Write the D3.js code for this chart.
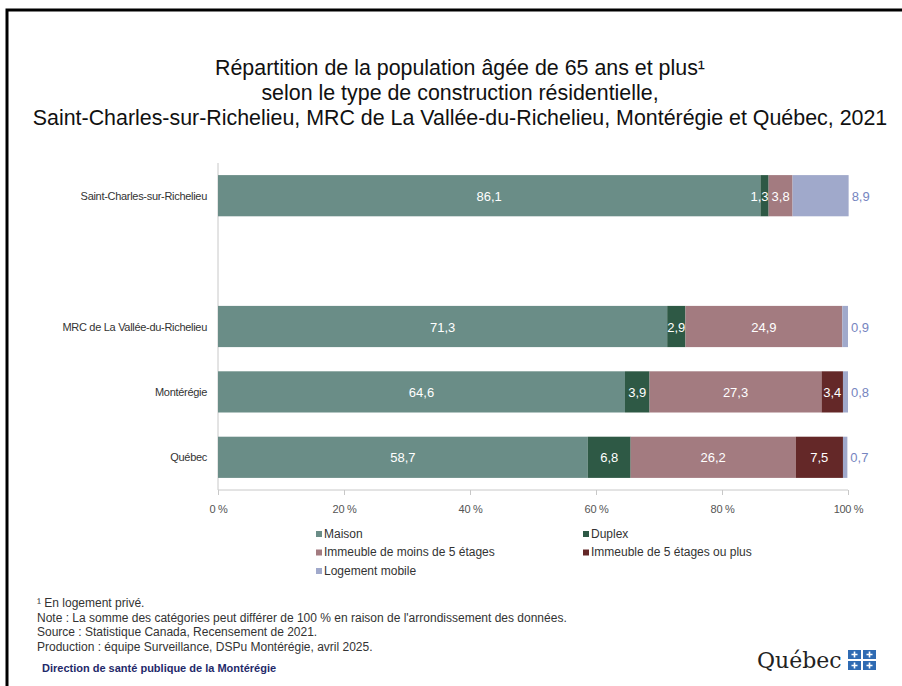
<!DOCTYPE html>
<html lang="fr">
<head>
<meta charset="utf-8">
<title>Répartition de la population âgée de 65 ans et plus</title>
<style>
  body { margin: 0; background: #fff; }
  svg { display: block; }
  .title { font-family: "Liberation Sans Narrow", "Liberation Sans", Arial, sans-serif; font-size: 21.4px; fill: #111; }
  .cat { font-family: "Liberation Sans", Arial, sans-serif; font-size: 11px; fill: #333; letter-spacing: -0.3px; }
  .tick text { font-family: "Liberation Sans", Arial, sans-serif; font-size: 11px; fill: #555; letter-spacing: -0.3px; }
  .val { font-family: "Liberation Sans", Arial, sans-serif; font-size: 13px; fill: #fff; }
  .legend text, .note { font-family: "Liberation Sans Narrow", "Liberation Sans", Arial, sans-serif; font-size: 12px; fill: #333; }
</style>
</head>
<body>
<svg id="chart" width="902" height="686"></svg>
<script src="https://d3js.org/d3.v7.min.js"></script>
<script>
  // données (%), une valeur par territoire
  var territoires = ["Saint-Charles-sur-Richelieu", "", "MRC de La Vallée-du-Richelieu", "Montérégie", "Québec"];
  var series = ["Maison", "Duplex", "Immeuble de moins de 5 étages", "Immeuble de 5 étages ou plus", "Logement mobile"];
  var maison     = [86.1, 0, 71.3, 64.6, 58.7];
  var duplex     = [1.3, 0, 2.9, 3.9, 6.8];
  var moins5     = [3.8, 0, 24.9, 27.3, 26.2];
  var plus5      = [0, 0, 0, 3.4, 7.5];
  var mobile     = [8.9, 0, 0.9, 0.8, 0.7];
  var ticks      = [0, 20, 40, 60, 80, 100];
  var couleurs   = ["#6a8d87", "#2e5945", "#a37b80", "#642828", "#a0a9cb"];

  var svg = d3.select("#chart");

  // cadre
  svg.append("path").attr("d", "M7,686 V10 H902").attr("fill", "none").attr("stroke", "#000").attr("stroke-width", 3);

  // titre
  var titre = ["Répartition de la population âgée de 65 ans et plus¹",
               "selon le type de construction résidentielle,",
               "Saint-Charles-sur-Richelieu, MRC de La Vallée-du-Richelieu, Montérégie et Québec, 2021"];
  svg.selectAll(".title").data(titre).enter().append("text")
     .attr("class", "title").attr("x", 460).attr("y", (d, i) => 75 + i * 25)
     .attr("text-anchor", "middle").text(d => d);

  // tableau pour la pile
  var table = territoires.map(function(t, i) {
    return { nom: t, Maison: maison[i], Duplex: duplex[i],
             "Immeuble de moins de 5 étages": moins5[i],
             "Immeuble de 5 étages ou plus": plus5[i],
             "Logement mobile": mobile[i] };
  });
  var stack = d3.stack().keys(series)(table);

  var x = d3.scaleLinear().domain([0, 100]).range([218, 848]);
  var y = d3.scaleBand().domain(d3.range(territoires.length)).range([163, 490])
            .paddingInner(0.37).paddingOuter(0.185);
  var color = d3.scaleOrdinal().domain(series).range(couleurs);

  // axe x
  var gx = svg.append("g").attr("class", "tick-axis").attr("transform", "translate(0,490)")
    .call(d3.axisBottom(x).tickValues(ticks).tickSize(5).tickFormat(d => d + " %"));
  gx.selectAll("line").attr("stroke", "#c8c8c8");
  gx.select(".domain").attr("stroke", "#c8c8c8").attr("d", "M218,0H848");
  gx.selectAll("text").attr("dy", "1.35em");
  gx.attr("font-family", null).attr("font-size", null);

  // axe y
  svg.append("line").attr("x1", 218).attr("x2", 218).attr("y1", 163).attr("y2", 490)
     .attr("stroke", "#c8c8c8");
  svg.selectAll(".cat").data(territoires).enter().append("text")
     .attr("class", "cat").attr("x", 207).attr("text-anchor", "end")
     .attr("y", (d, i) => y(i) + y.bandwidth() / 2 + 4).text(d => d);

  // barres
  var groupes = svg.selectAll(".serie").data(stack).enter().append("g")
     .attr("class", "serie").attr("fill", d => color(d.key));
  groupes.selectAll("rect").data(d => d.filter(p => p[1] > p[0])).enter().append("rect")
     .attr("x", d => x(d[0])).attr("width", d => x(d[1]) - x(d[0]))
     .attr("y", d => y(territoires.indexOf(d.data.nom))).attr("height", y.bandwidth());

  // étiquettes
  var fmt = v => String(v.toFixed(1)).replace(".", ",");
  stack.forEach(function(s, k) {
    s.forEach(function(p, i) {
      var v = p[1] - p[0];
      if (!(v > 0)) return;
      var yy = y(i) + y.bandwidth() / 2 + 5;
      if (k === 4) {
        svg.append("text").attr("class", "val").attr("x", x(p[1]) + 3).attr("y", yy)
           .style("fill", "#7685c0").text(fmt(v));
      } else {
        var t = svg.append("text").attr("class", "val").attr("y", yy).text(fmt(v));
        var w = t.node().getComputedTextLength();
        if (w > x(p[1]) - x(p[0]) + 2) {
          // segment trop étroit : on aligne le texte sur le bord droit
          t.attr("x", x(p[1])).attr("text-anchor", "end");
        } else {
          t.attr("x", x((p[0] + p[1]) / 2)).attr("text-anchor", "middle");
        }
      }
    });
  });

  // légende
  var legX = [316, 583];
  var leg = svg.selectAll(".legend").data(series).enter().append("g")
     .attr("class", "legend")
     .attr("transform", (d, i) => "translate(" + legX[i % 2] + "," + (537 + Math.floor(i / 2) * 18.5) + ")");
  leg.append("rect").attr("x", 0).attr("y", -6).attr("width", 6).attr("height", 6).attr("fill", d => color(d));
  leg.append("text").attr("x", 8).attr("y", 0).attr("dy", "0.05em").text(d => d);

  // notes
  var notes = ["¹ En logement privé.",
               "Note : La somme des catégories peut différer de 100 % en raison de l'arrondissement des données.",
               "Source : Statistique Canada, Recensement de 2021.",
               "Production : équipe Surveillance, DSPu Montérégie, avril 2025."];
  svg.selectAll(".note").data(notes).enter().append("text")
     .attr("class", "note").attr("x", 37).attr("y", (d, i) => 607 + i * 14.7).text(d => d);
  svg.append("text").attr("class", "note").attr("x", 42).attr("y", 672)
     .style("fill", "#1f2a6a").style("font-weight", "bold").style("font-size", "11px").text("Direction de santé publique de la Montérégie");

  // logo Québec
  svg.append("text").attr("x", 757).attr("y", 668)
     .style("font-family", "'DejaVu Serif', serif").style("font-size", "22px").style("fill", "#222")
     .text("Québec");
  var drap = svg.append("g").attr("transform", "translate(848,650)");
  [[0, 0], [15, 0], [0, 11], [15, 11]].forEach(function(p) {
    drap.append("rect").attr("x", p[0]).attr("y", p[1]).attr("width", 13).attr("height", 9).attr("fill", "#2f6bb3");
    drap.append("path").attr("d", "M" + (p[0] + 6.5) + "," + (p[1] + 1.5) + "v6M" + (p[0] + 3.5) + "," + (p[1] + 4.5) + "h6")
        .attr("stroke", "#fff").attr("stroke-width", 1.6);
  });
</script>
</body>
</html>
